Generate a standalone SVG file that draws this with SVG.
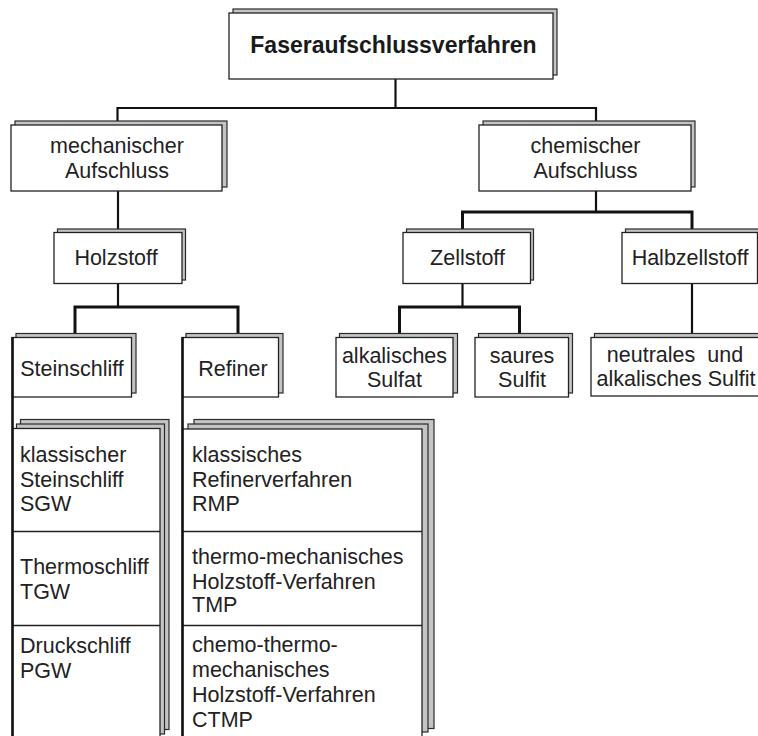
<svg xmlns="http://www.w3.org/2000/svg" width="758" height="736" viewBox="0 0 758 736">
  <style>
    .bg { fill: #ffffff; }
    .face { fill: #ffffff; stroke: #222222; stroke-width: 1.3; }
    .back { fill: #c4c4c4; stroke: #2a2a2a; stroke-width: 1.2; }
    .wire { fill: none; stroke: #111111; stroke-width: 2.2; }
    .bus { fill: none; stroke: #111111; stroke-width: 3; }
    .spine { fill: none; stroke: #111111; stroke-width: 2.6; }
    .div { fill: none; stroke: #222222; stroke-width: 1.3; }
    text { font-family: "Liberation Sans", Arial, Helvetica, sans-serif; font-size: 21.5px; fill: #222222; }
    .c { text-anchor: middle; }
    .title { font-weight: bold; font-size: 23px; fill: #1a1a1a; }
  </style>

  <rect class="bg" x="0" y="0" width="758" height="736"/>

  <!-- connectors -->
  <g id="connectors">
    <path class="wire" d="M395.5 79 V108"/>
    <path class="wire" d="M117.5 121 V108 H596 V121"/>
    <path class="wire" d="M118 191 V229"/>
    <path class="wire" d="M118 283 V307"/>
    <path class="bus" d="M75 333 V307 H238 V333"/>
    <path class="wire" d="M596 191 V212"/>
    <path class="bus" d="M462.5 229 V212 H692 V229"/>
    <path class="wire" d="M462.5 283 V307"/>
    <path class="bus" d="M399.5 333 V307 H519.5 V333"/>
    <path class="wire" d="M692 283 V333"/>
  </g>

  <!-- root -->
  <g id="n-root">
    <rect class="back" x="233" y="9" width="324" height="66"/>
    <rect class="face" x="229" y="13" width="324" height="66"/>
    <text class="c title" x="393.5" y="53">Faseraufschlussverfahren</text>
  </g>

  <!-- second level -->
  <g id="n-mech">
    <rect class="back" x="15" y="121" width="212" height="66"/>
    <rect class="face" x="11" y="125" width="211" height="66"/>
    <text class="c" x="117" y="153">mechanischer</text>
    <text class="c" x="117" y="178">Aufschluss</text>
  </g>
  <g id="n-chem">
    <rect class="back" x="483" y="121" width="212" height="66"/>
    <rect class="face" x="479" y="125" width="212" height="66"/>
    <text class="c" x="585.5" y="153">chemischer</text>
    <text class="c" x="585.5" y="178">Aufschluss</text>
  </g>

  <!-- third level -->
  <g id="n-holzstoff">
    <rect class="back" x="57.5" y="229" width="128" height="51"/>
    <rect class="face" x="54" y="232.5" width="128" height="51"/>
    <text class="c" x="116" y="265">Holzstoff</text>
  </g>
  <g id="n-zellstoff">
    <rect class="back" x="406.5" y="229" width="127" height="51"/>
    <rect class="face" x="403" y="232.5" width="127.5" height="51"/>
    <text class="c" x="467.5" y="265">Zellstoff</text>
  </g>
  <g id="n-halbzellstoff">
    <rect class="back" x="625.5" y="229" width="136" height="51"/>
    <rect class="face" x="622" y="232.5" width="135.5" height="51"/>
    <text class="c" x="690" y="265">Halbzellstoff</text>
  </g>

  <!-- fourth level -->
  <g id="n-steinschliff">
    <rect class="back" x="16" y="333.5" width="120" height="59.5"/>
    <rect class="face" x="12.5" y="337.5" width="119" height="59.5"/>
    <text class="c" x="72" y="376">Steinschliff</text>
  </g>
  <g id="n-refiner">
    <rect class="back" x="186" y="333.5" width="97" height="59.5"/>
    <rect class="face" x="182.5" y="337.5" width="96" height="59.5"/>
    <text class="c" x="233" y="376">Refiner</text>
  </g>
  <g id="n-sulfat">
    <rect class="back" x="339.5" y="333.5" width="118" height="59.5"/>
    <rect class="face" x="336" y="337.5" width="117" height="59.5"/>
    <text class="c" x="394.5" y="363">alkalisches</text>
    <text class="c" x="394.5" y="387">Sulfat</text>
  </g>
  <g id="n-sulfit">
    <rect class="back" x="478.5" y="333.5" width="94" height="59.5"/>
    <rect class="face" x="475" y="337.5" width="93.5" height="59.5"/>
    <text class="c" x="522" y="363">saures</text>
    <text class="c" x="522" y="387">Sulfit</text>
  </g>
  <g id="n-neutral">
    <rect class="back" x="594.5" y="333.5" width="170" height="59"/>
    <rect class="face" x="591" y="337.5" width="170" height="58.5"/>
    <text class="c" x="675" y="362" style="white-space:pre">neutrales  und</text>
    <text class="c" x="676" y="386">alkalisches Sulfit</text>
  </g>

  <!-- groundwood list -->
  <g id="n-schliff-list">
    <rect class="back" x="20.5" y="419.5" width="148.5" height="310"/>
    <rect class="back" x="16.5" y="424" width="148" height="310"/>
    <rect class="face" x="12.5" y="428.5" width="147.5" height="330"/>
    <path class="div" d="M12.5 531.5 H160 M12.5 625.5 H160"/>
    <text x="20" y="462">klassischer</text>
    <text x="20" y="486.5">Steinschliff</text>
    <text x="20" y="511">SGW</text>
    <text x="20" y="574">Thermoschliff</text>
    <text x="20" y="598.5">TGW</text>
    <text x="20" y="653">Druckschliff</text>
    <text x="20" y="677.5">PGW</text>
  </g>

  <!-- refiner list -->
  <g id="n-refiner-list">
    <rect class="back" x="194" y="419.5" width="240" height="309"/>
    <rect class="back" x="188" y="424" width="240" height="308"/>
    <rect class="face" x="182.5" y="429" width="239.5" height="330"/>
    <path class="div" d="M182.5 531.5 H422 M182.5 625.5 H422"/>
    <text x="192" y="462">klassisches</text>
    <text x="192" y="486.5">Refinerverfahren</text>
    <text x="192" y="511">RMP</text>
    <text x="192" y="563.5">thermo-mechanisches</text>
    <text x="192" y="588.5">Holzstoff-Verfahren</text>
    <text x="192" y="612">TMP</text>
    <text x="192" y="652">chemo-thermo-</text>
    <text x="192" y="676.5">mechanisches</text>
    <text x="192" y="702">Holzstoff-Verfahren</text>
    <text x="192" y="727">CTMP</text>
  </g>

  <!-- heavy left rails of the two groundwood branches -->
  <g id="rails">
    <path class="spine" d="M12.5 337 V736"/>
    <path class="spine" d="M182.5 337 V736"/>
  </g>
</svg>
